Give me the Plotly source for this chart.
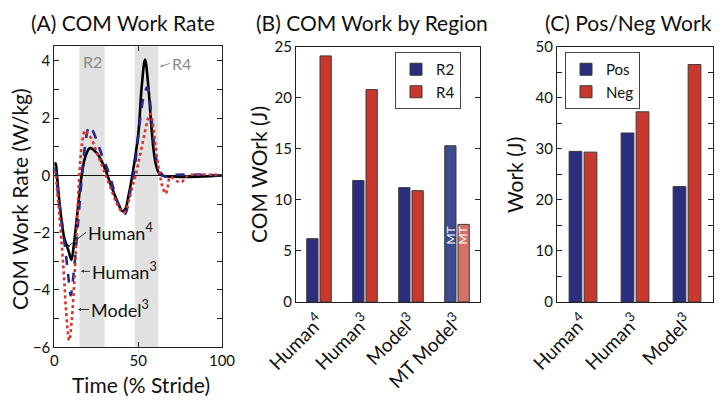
import plotly.graph_objects as go

# ---- (A) COM work rate vs. time (% stride) ----
h4_t = [0, 0.8, 1.6, 3, 4.4, 6, 7.5, 8.8, 10.2, 11.5, 13.3, 16.3, 18.5, 21.3, 25, 29, 31.7, 34.2,
        38.2, 40.6, 42.5, 44.1, 46.5, 50.1, 52.1, 54.1, 56.1, 57.5, 59, 60.5, 62, 64, 100]
h4_w = [0.35, 0.42, 0.0, -0.9, -1.6, -2.2, -2.45, -2.7, -2.95, -2.5, -1.57, 0.0, 0.65, 0.95, 0.8,
        0.4, 0.0, -0.41, -0.99, -1.25, -1.15, -0.76, 0.0, 1.45, 3.08, 4.04, 3.08, 2.0, 0.99, 0.4,
        0.12, 0.0, 0.0]

h3_t = [0, 1, 2.4, 4, 5.4, 7, 8.4, 9.8, 11, 12.3, 14.3, 16.5, 18.5, 20, 21.3, 23, 26, 29, 31.2, 33,
        35, 37.2, 40, 42.2, 44, 46.1, 47.5, 49, 51.1, 53.5, 55.5, 56.8, 58.1, 59.5, 61, 62.5, 64,
        66, 68, 100]
h3_w = [0.3, 0.1, -0.76, -1.4, -2.04, -2.8, -3.55, -4.19, -3.7, -2.97, -1.57, 0.0, 1.1, 1.6, 1.72,
        1.55, 1.1, 0.6, 0.29, 0.0, -0.4, -0.87, -1.2, -1.35, -1.0, -0.29, 0.1, 0.8, 1.92, 2.8, 3.08,
        2.7, 1.92, 1.1, 0.52, 0.2, 0.05, -0.05, 0.0, 0.0]

m3_t = [0, 0.4, 2.4, 4.4, 5.8, 7, 8.9, 10.5, 12, 13.3, 14.9, 16.5, 18.3, 20, 22, 25, 28, 31, 34,
        37, 40, 41.5, 43, 45, 47, 48.5, 50, 52, 54, 56, 57.3, 58.5, 60, 61.5, 63, 64.5, 66.4, 67.5,
        69, 71, 73, 76, 78, 80, 100]
m3_w = [0.05, 0.12, -0.99, -2.38, -3.55, -4.71, -5.76, -5.0, -3.6, -2.0, 0.0, 1.1, 1.57, 1.45, 1.3,
        0.85, 0.4, -0.05, -0.5, -0.95, -1.25, -1.3, -1.15, -0.75, -0.3, 0.0, 0.4, 0.95, 1.5, 2.0,
        2.15, 1.9, 1.2, 0.5, 0.0, -0.4, -0.64, -0.45, -0.06, -0.1, -0.2, -0.23, -0.1, 0.0, 0.0]

regions = {"R2": (15, 30), "R4": (48, 62)}

# ---- (B) COM work by region ----
cats_b = ["Human<sup>4</sup>", "Human<sup>3</sup>", "Model<sup>3</sup>", "MT Model<sup>3</sup>"]
r2_work = [6.2, 11.9, 11.2, 15.3]
r4_work = [24.1, 20.8, 10.9, 7.6]

# ---- (C) positive / negative work ----
cats_c = ["Human<sup>4</sup>", "Human<sup>3</sup>", "Model<sup>3</sup>"]
pos_work = [29.5, 33.1, 22.6]
neg_work = [29.35, 37.25, 46.5]

FONT = "Lato, 'Open Sans', sans-serif"
NAVY, RED = "#2b2d7e", "#c9372d"
NAVY_MT, RED_MT = "#3d4b8c", "#d5716b"
EDGE = dict(color="#3a3a3a", width=1)

# page has an 8px body margin -> lay out in page pixels
W, H = 716, 397
fx = lambda px: (px - 8) / W
fy = lambda py: 1 - (py - 8) / H

dom_a_x, dom_a_y = [fx(54.3), fx(222)], [fy(347.3), fy(46.4)]
dom_b_x, dom_bc_y = [fx(296), fx(480)], [fy(302), fy(46.7)]
dom_c_x = [fx(557), fx(713)]

fig = go.Figure()

# panel A curves
fig.add_trace(go.Scatter(x=h4_t, y=h4_w, mode="lines", line=dict(color="black", width=2.6, shape="spline"),
                         showlegend=False, xaxis="x", yaxis="y"))
fig.add_trace(go.Scatter(x=h3_t, y=h3_w, mode="lines",
                         line=dict(color="#26288a", width=2.6, dash="dash", shape="spline"),
                         showlegend=False, xaxis="x", yaxis="y"))
fig.add_trace(go.Scatter(x=m3_t, y=m3_w, mode="lines",
                         line=dict(color="#d9322b", width=2.6, dash="dot", shape="spline"),
                         showlegend=False, xaxis="x", yaxis="y"))

BW = 0.245
# panel B bars
fig.add_trace(go.Bar(x=cats_b, y=r2_work, name="R2", xaxis="x2", yaxis="y2", legend="legend",
                     width=BW, offset=-0.267, marker=dict(color=[NAVY, NAVY, NAVY, NAVY_MT], line=EDGE)))
fig.add_trace(go.Bar(x=cats_b, y=r4_work, name="R4", xaxis="x2", yaxis="y2", legend="legend",
                     width=BW, offset=0.022, marker=dict(color=[RED, RED, RED, RED_MT], line=EDGE)))

# panel C bars
fig.add_trace(go.Bar(x=cats_c, y=pos_work, name="Pos", xaxis="x3", yaxis="y3", legend="legend2",
                     width=BW, offset=-0.267, marker=dict(color=NAVY, line=EDGE)))
fig.add_trace(go.Bar(x=cats_c, y=neg_work, name="Neg", xaxis="x3", yaxis="y3", legend="legend2",
                     width=BW, offset=0.022, marker=dict(color=RED, line=EDGE)))

# shaded regions in A
for lo, hi in regions.values():
    fig.add_shape(type="rect", xref="x", yref="paper", x0=lo, x1=hi, y0=dom_a_y[0], y1=dom_a_y[1],
                  fillcolor="#e1e1e1", line=dict(width=0), layer="below")

frame = dict(showline=True, linecolor="#222", linewidth=1, mirror="ticks", ticks="inside",
             ticklen=5, tickcolor="#222", showgrid=False, zeroline=False, automargin=False,
             tickfont=dict(family=FONT, size=15, color="#111"))
minor = lambda step: dict(dtick=step, ticks="inside", ticklen=5, tickcolor="#222", showgrid=False)

fig.update_layout(
    template="none",
    width=W, height=H, margin=dict(l=0, r=0, t=0, b=0, autoexpand=False),
    paper_bgcolor="white", plot_bgcolor="white",
    font=dict(family=FONT, color="#111"),
    barmode="group",
    xaxis=dict(frame, domain=dom_a_x, range=[0, 100], tickvals=[0, 50, 100]),
    yaxis=dict(frame, domain=dom_a_y, range=[-6, 4.5], tick0=-6, dtick=2, minor=minor(1),
               tickformat="d", zeroline=True, zerolinecolor="#111", zerolinewidth=1),
    xaxis2=dict(frame, domain=dom_b_x, anchor="y2", ticks="", tickangle=-45,
                range=[-0.5, len(cats_b) - 0.5], tickfont=dict(family=FONT, size=19, color="#111")),
    yaxis2=dict(frame, domain=dom_bc_y, anchor="x2", range=[0, 25], dtick=5),
    xaxis3=dict(frame, domain=dom_c_x, anchor="y3", ticks="", tickangle=-45,
                range=[-0.5, len(cats_c) - 0.5], tickfont=dict(family=FONT, size=19, color="#111")),
    yaxis3=dict(frame, domain=dom_bc_y, anchor="x3", range=[0, 50], dtick=10, minor=minor(5)),
    legend=dict(x=fx(395), y=fy(52), xanchor="left", yanchor="top", bgcolor="white",
                bordercolor="#444", borderwidth=1, itemwidth=30, tracegroupgap=0,
                font=dict(family=FONT, size=15, color="#111")),
    legend2=dict(x=fx(565), y=fy(52), xanchor="left", yanchor="top", bgcolor="white",
                 bordercolor="#444", borderwidth=1, itemwidth=30, tracegroupgap=0,
                 font=dict(family=FONT, size=15, color="#111")),
)

txt = dict(family=FONT, color="#111")
notes = [
    dict(text="(A) COM Work Rate", x=fx(123), y=fy(23), font=dict(txt, size=21)),
    dict(text="(B) COM Work by Region", x=fx(372), y=fy(23), font=dict(txt, size=21)),
    dict(text="(C) Pos/Neg Work", x=fx(628), y=fy(23), font=dict(txt, size=21)),
    dict(text="COM Work Rate (W/kg)", x=fx(20), y=fy(199), textangle=-90, font=dict(txt, size=21)),
    dict(text="COM WOrk (J)", x=fx(258), y=fy(175), textangle=-90, font=dict(txt, size=21)),
    dict(text="Work (J)", x=fx(514), y=fy(175), textangle=-90, font=dict(txt, size=21)),
    dict(text="Time (% Stride)", x=fx(141), y=fy(384), font=dict(txt, size=21)),
]
for n in notes:
    fig.add_annotation(xref="paper", yref="paper", showarrow=False, xanchor="center",
                       yanchor="middle", **n)

# region labels
fig.add_annotation(x=sum(regions["R2"]) / 2, y=3.99, xref="x", yref="y", text="R2", showarrow=False,
                   font=dict(family=FONT, size=16, color="#8a8a8a"))
fig.add_annotation(x=63, y=3.8, xref="x", yref="y", text="R4", showarrow=True, arrowhead=2,
                   arrowsize=0.6, arrowwidth=1, arrowcolor="#8a8a8a", ax=10, ay=-3,
                   xanchor="left", font=dict(family=FONT, size=16, color="#8a8a8a"))

# curve labels
for label, px, py, dx, dy in [("Human<sup>4</sup>", 7.6, -2.51, 19, 15),
                              ("Human<sup>3</sup>", 15.9, -3.35, 9, 0),
                              ("Model<sup>3</sup>", 14.1, -4.68, 11, 0)]:
    fig.add_annotation(x=px, y=py, xref="x", yref="y", text=label, showarrow=True, arrowhead=2,
                       arrowsize=0.6, arrowwidth=1, arrowcolor="#333", ax=dx, ay=-dy,
                       xanchor="left", font=dict(family=FONT, size=18, color="#111"))

# "MT" marks inside the MT Model bars
for shift in (-6, 6):
    fig.add_annotation(x=cats_b[3], y=6.5, xref="x2", yref="y2", text="MT", textangle=-90,
                       showarrow=False, xshift=shift, font=dict(family=FONT, size=12, color="white"))

fig.write_html("out.html")
